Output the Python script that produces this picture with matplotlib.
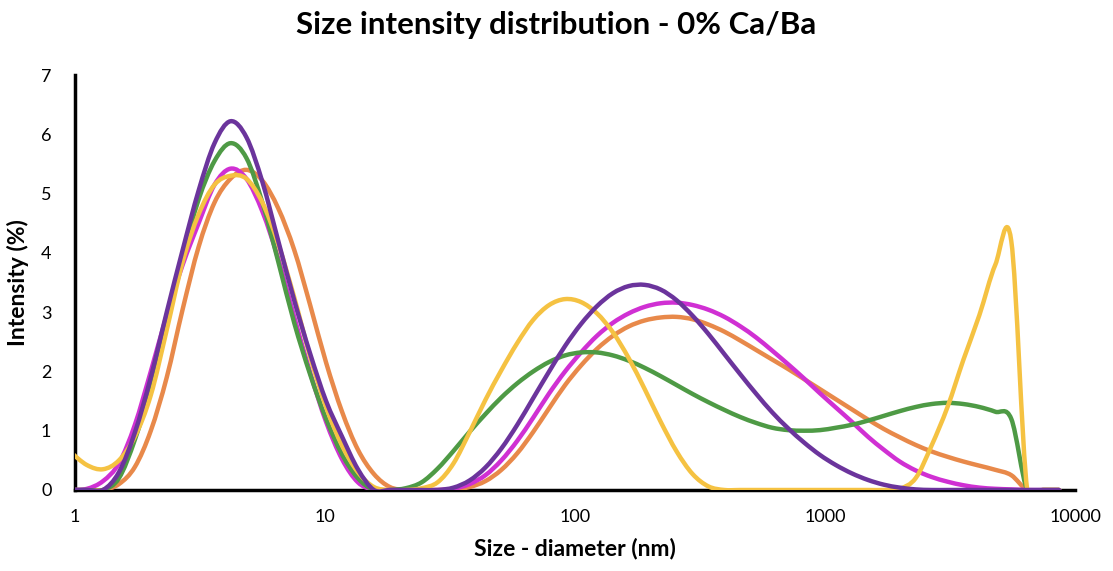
import numpy as np
import matplotlib.pyplot as plt
from matplotlib.path import Path
from matplotlib.patches import PathPatch
from matplotlib.ticker import FixedLocator, FixedFormatter

plt.rcParams['font.family'] = ['Lato', 'DejaVu Sans']

# ----------------- DATA -----------------

# size bins (nm)
sizes = [0.9649, 1.117, 1.294, 1.499, 1.736, 2.010, 2.328, 2.696, 3.122, 3.615,
         4.187, 4.849, 5.615, 6.503, 7.531, 8.721, 10.10, 11.70, 13.54, 15.69,
         18.17, 21.04, 24.36, 28.21, 32.67, 37.84, 43.82, 50.75, 58.77, 68.06,
         78.82, 91.28, 105.7, 122.4, 141.8, 164.2, 190.1, 220.2, 255.0, 295.3,
         342.0, 396.1, 458.7, 531.2, 615.1, 712.4, 825.0, 955.4, 1106, 1281,
         1484, 1718, 1990, 2305, 2669, 3091, 3580, 4145, 4801, 5560,
         6439, 7456, 8635]

# intensity (%)
orange = [0, 0, 0, 0.1, 0.39, 1.0, 1.9, 3.05, 4.1, 4.85,
          5.25, 5.4, 5.22, 4.75, 4.05, 3.12, 2.15, 1.32, 0.68, 0.27,
          0.05, 0, 0, 0, 0.01, 0.05, 0.15, 0.34, 0.62, 0.98,
          1.38, 1.77, 2.1, 2.38, 2.6, 2.76, 2.86, 2.91, 2.92, 2.88,
          2.79, 2.67, 2.52, 2.36, 2.2, 2.04, 1.87, 1.7, 1.53, 1.36,
          1.19, 1.03, 0.89, 0.76, 0.65, 0.56, 0.48, 0.41, 0.34, 0.25,
          0, 0, 0]
magenta = [0, 0.02, 0.15, 0.45, 1.1, 2.0, 2.95, 3.8, 4.5, 5.15,
           5.42, 5.25, 4.7, 3.9, 2.92, 1.98, 1.15, 0.52, 0.13, 0,
           0, 0, 0, 0, 0.02, 0.1, 0.25, 0.5, 0.83, 1.22,
           1.63, 2.0, 2.32, 2.6, 2.82, 2.98, 3.09, 3.15, 3.16, 3.12,
           3.04, 2.92, 2.76, 2.57, 2.35, 2.12, 1.88, 1.63, 1.39, 1.15,
           0.9, 0.68, 0.48, 0.33, 0.22, 0.14, 0.08, 0.04, 0.02, 0.01,
           0, 0, 0]
green = [0, 0, 0, 0.2, 0.85, 1.75, 2.9, 3.95, 4.9, 5.55,
         5.85, 5.6, 4.85, 3.85, 2.82, 1.95, 1.2, 0.6, 0.2, 0,
         0, 0.03, 0.13, 0.36, 0.66, 0.98, 1.28, 1.56, 1.8, 2.0,
         2.16, 2.27, 2.32, 2.32, 2.27, 2.18, 2.06, 1.92, 1.77, 1.62,
         1.48, 1.35, 1.23, 1.13, 1.05, 1.01, 1.0, 1.01, 1.05, 1.1,
         1.17, 1.25, 1.33, 1.4, 1.45, 1.47, 1.45, 1.4, 1.32, 1.2,
         0, 0, 0]
yellow = [0.63, 0.42, 0.35, 0.5, 0.9, 1.6, 2.7, 3.85, 4.65, 5.15,
          5.3, 5.25, 4.85, 4.15, 3.25, 2.25, 1.4, 0.75, 0.3, 0.05,
          0, 0, 0.03, 0.13, 0.45, 0.97, 1.52, 2.02, 2.48, 2.87,
          3.12, 3.22, 3.17, 2.98, 2.66, 2.22, 1.7, 1.15, 0.65, 0.27,
          0.06, 0, 0, 0, 0, 0, 0, 0, 0, 0,
          0, 0, 0.02, 0.2, 0.75, 1.4, 2.2, 2.95, 3.8, 4.2,
          0, 0, 0]
purple = [0, 0, 0, 0.3, 0.97, 1.9, 3.0, 4.05, 5.05, 5.85,
          6.22, 5.95, 5.2, 4.2, 3.2, 2.3, 1.5, 0.9, 0.35, 0,
          0, 0, 0, 0, 0.04, 0.16, 0.38, 0.7, 1.1, 1.55,
          2.0, 2.43, 2.8, 3.1, 3.32, 3.44, 3.46, 3.38, 3.2, 2.94,
          2.63, 2.29, 1.95, 1.62, 1.31, 1.04, 0.8, 0.59, 0.42, 0.28,
          0.17, 0.09, 0.04, 0.01, 0, 0, 0, 0, 0, 0,
          0, 0, 0]

series = [
    (orange, "#e8894a"),
    (magenta, "#d030d3"),
    (green, "#4e9a45"),
    (yellow, "#f5c242"),
    (purple, "#6b349c"),
]

x_ticks = [1, 10, 100, 1000, 10000]
x_tick_labels = ["1", "10", "100", "1000", "10000"]


# smoothed line like Excel: Catmull-Rom segments as cubic Bezier, in log-x space
def smooth_path(xs, ys):
    pts = np.column_stack([np.log10(xs), np.asarray(ys, float)])
    n = len(pts)
    verts = [pts[0]]
    codes = [Path.MOVETO]
    for i in range(n - 1):
        p0 = pts[max(i - 1, 0)]
        p1 = pts[i]
        p2 = pts[i + 1]
        p3 = pts[min(i + 2, n - 1)]
        verts += [p1 + (p2 - p0) / 6, p2 - (p3 - p1) / 6, p2]
        codes += [Path.CURVE4] * 3
    verts = np.array(verts)
    verts[:, 0] = 10 ** verts[:, 0]
    return Path(verts, codes)


# ----------------- PLOT -----------------

fig = plt.figure(figsize=(11.13, 5.71), dpi=100)
ax = fig.add_axes([75 / 1113, 1 - 490 / 571, 1000 / 1113, 415 / 571])

ax.set_xscale("log")
ax.set_xlim(1, 10000)
ax.set_ylim(0, 7)

for values, color in series:
    ax.add_patch(PathPatch(smooth_path(sizes, values), fill=False, edgecolor=color,
                           linewidth=3.2, zorder=3, capstyle="round", joinstyle="round"))

ax.xaxis.set_major_locator(FixedLocator(x_ticks))
ax.xaxis.set_major_formatter(FixedFormatter(x_tick_labels))
ax.xaxis.set_minor_locator(FixedLocator([]))
ax.set_yticks(range(0, 8))

ax.tick_params(axis="both", length=0, labelsize=13)
ax.tick_params(axis="y", pad=17)
ax.tick_params(axis="x", pad=14)

for side in ["top", "right"]:
    ax.spines[side].set_visible(False)
for side in ["left", "bottom"]:
    ax.spines[side].set_linewidth(2.5)
    ax.spines[side].set_color("black")

ax.set_xlabel("Size - diameter (nm)", fontsize=16.5, fontweight="bold")
ax.set_ylabel("Intensity (%)", fontsize=16.5, fontweight="bold")
ax.xaxis.set_label_coords(0.5, -0.116)
ax.yaxis.set_label_coords(-0.046, 0.5)

fig.suptitle("Size intensity distribution - 0% Ca/Ba", fontsize=22.5,
             fontweight="bold", y=1 - 25 / 571, va="center")

fig.savefig("out.png", dpi=100)
